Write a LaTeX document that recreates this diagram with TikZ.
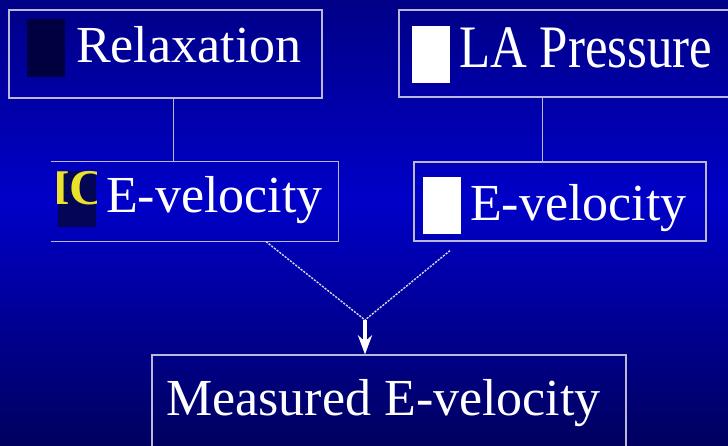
\documentclass[tikz,border=0pt]{standalone}
\usepackage{fontspec}
\setmainfont{Liberation Serif}
\usepackage{graphicx}
\usetikzlibrary{arrows.meta,positioning,calc}
\definecolor{bgTop}{RGB}{0,0,135}
\definecolor{bgMid}{RGB}{0,0,200}
\definecolor{bgBottom}{RGB}{0,0,95}
\definecolor{frameGrey}{RGB}{185,185,215}
\definecolor{iconNavy}{RGB}{0,0,64}
\definecolor{tagNavy}{RGB}{5,5,85}
\definecolor{tagYellow}{RGB}{235,225,40}
\tikzset{
  box/.style={draw=frameGrey, line width=1.2pt, inner sep=0pt},
  lbl/.style={text=white, inner sep=0pt, anchor=base west, font=\fontsize{52}{60}\selectfont},
  icon/.style={inner sep=0pt, minimum width=38pt, minimum height=57pt},
  link/.style={draw=frameGrey, line width=1pt},
  dotlink/.style={draw=frameGrey!60!white, line width=1.4pt, dash pattern=on 2.2pt off 1.2pt},
  flow/.style={-{Stealth[length=19pt,width=14pt,inset=6pt]}, line width=3.2pt, draw=white}
}
\begin{document}
\begin{tikzpicture}[x=1pt, y=-1pt]
        \useasboundingbox (0,0) rectangle (728,446);
        \shade[top color=bgTop, bottom color=bgMid] (0,0) rectangle (728,201);
        \shade[top color=bgMid, bottom color=bgBottom] (0,200) rectangle (728,446);
        \node[box, minimum width=313pt, minimum height=88pt] (relax) at (165.5,54) {};
        \node[box, minimum width=346pt, minimum height=87pt] (lapr) at (572,53.5) {};
        \node[box, draw=none, minimum width=286pt, minimum height=79pt] (lvel) at (195,201.5) {};
        \draw[frameGrey, line width=1.2pt] (lvel.north west) -- (lvel.north east) -- (lvel.south east) -- (lvel.south west);
        \node[box, minimum width=292pt, minimum height=79pt] (rvel) at (560,201.5) {};
        \node[box, minimum width=474pt, minimum height=115pt] (meas) at (389,412.5) {};
        \node[icon, fill=iconNavy, minimum height=58pt] (relaxIcon) at (46,48) {};
        \node[icon, fill=white] (laprIcon) at (431,54.5) {};
        \node[icon, fill=tagNavy, minimum height=56pt] (lvelIcon) at (77,199) {};
        \begin{scope}
          \clip (lvelIcon.north west) rectangle (lvelIcon.south east);
          \node[lbl, text=tagYellow, font=\fontsize{50}{60}\selectfont\bfseries] (lvelTag) at (50,205) {IC};
        \end{scope}
        \node[icon, fill=white] (rvelIcon) at (442,205.5) {};
        \node[lbl] (relaxText) at (76,62.5) {Relaxation};
        \node[lbl] (laprText) at (459,68) {\scalebox{0.98}[1.16]{LA Pressure}};
        \node[lbl] (lvelText) at (106,213) {E-velocity};
        \node[lbl] (rvelText) at (470,221) {E-velocity};
        \node[lbl] (measText) at (166,415) {Measured E-velocity};
        \coordinate (join) at (365,320);
        \draw[link] ([xshift=7.5pt]relax.south) -- ([xshift=7.5pt]relax.south |- lvel.north);
        \draw[link] ([xshift=-18pt]rvel.north |- lapr.south) -- ([xshift=-18pt]rvel.north);
        \draw[dotlink] ([xshift=71pt]lvel.south) -- (join);
        \draw[dotlink] ($(rvel.south)+(-110,9)$) -- (join);
        \draw[flow] (join) -- (join |- meas.north);
      \end{tikzpicture}
\end{document}
